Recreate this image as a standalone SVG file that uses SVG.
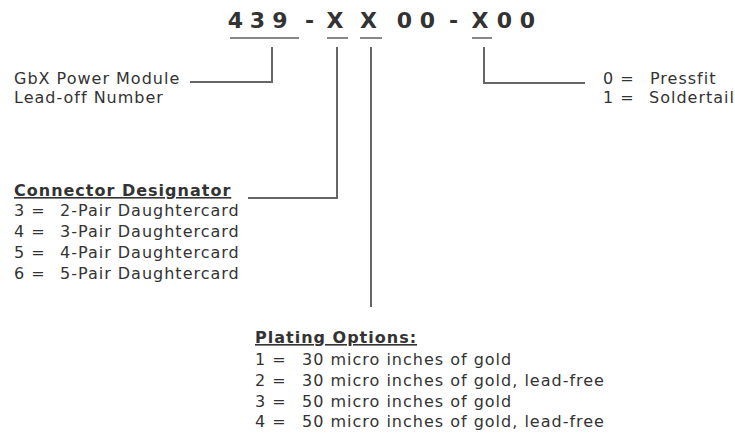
<svg xmlns="http://www.w3.org/2000/svg" width="735" height="435" viewBox="0 0 735 435">
<style>
  .t { font-family: "DejaVu Sans", Verdana, sans-serif; font-size: 16px; letter-spacing: 1px; fill: #333; }
  .h { font-family: "DejaVu Sans", Verdana, sans-serif; font-size: 16px; font-weight: bold; letter-spacing: 1px; fill: #333; text-decoration: underline; }
  .title { font-family: "DejaVu Sans", Verdana, sans-serif; font-size: 22px; font-weight: bold; fill: #333; }
  .ul { stroke: #888; stroke-width: 2; fill: none; }
  .ln { stroke: #666; stroke-width: 2; fill: none; }
</style>
<rect width="735" height="435" fill="#fff"/>
<g id="part-number">
  <text class="title" y="28" text-anchor="middle" x="235.5 257.5 280 309.5 335 368.5 404.5 427.5 453.5 480 504.5 527.5">439-XX00-X00</text>
  <line class="ul" x1="230" y1="38" x2="299" y2="38"/>
  <line class="ul" x1="327" y1="38" x2="348" y2="38"/>
  <line class="ul" x1="360" y1="38" x2="382" y2="38"/>
  <line class="ul" x1="472" y1="38" x2="492" y2="38"/>
</g>
<g id="connectors">
  <path class="ln" d="M272,47 V82 H190"/>
  <path class="ln" d="M337,47 V198 H248"/>
  <path class="ln" d="M371,47 V307" stroke="#888" stroke-width="2.5"/>
  <path class="ln" d="M484,47 V83 H585"/>
</g>
<g id="lead-off">
  <text class="t" x="14" y="84">GbX Power Module</text>
  <text class="t" x="14" y="103">Lead-off Number</text>
</g>
<g id="termination">
  <text class="t" x="603" y="84">0 =</text>
  <text class="t" x="650" y="84">Pressfit</text>
  <text class="t" x="603" y="103">1 =</text>
  <text class="t" x="649" y="103">Soldertail</text>
</g>
<g id="connector-designator">
  <text class="h" x="14" y="196">Connector Designator</text>
  <text class="t" x="14" y="216">3 =</text>
  <text class="t" x="60" y="216">2-Pair Daughtercard</text>
  <text class="t" x="14" y="237">4 =</text>
  <text class="t" x="60" y="237">3-Pair Daughtercard</text>
  <text class="t" x="14" y="258">5 =</text>
  <text class="t" x="60" y="258">4-Pair Daughtercard</text>
  <text class="t" x="14" y="279">6 =</text>
  <text class="t" x="60" y="279">5-Pair Daughtercard</text>
</g>
<g id="plating-options">
  <text class="h" x="255" y="343">Plating Options:</text>
  <text class="t" x="255" y="365">1 =</text>
  <text class="t" x="302" y="365">30 micro inches of gold</text>
  <text class="t" x="255" y="386">2 =</text>
  <text class="t" x="302" y="386">30 micro inches of gold, lead-free</text>
  <text class="t" x="255" y="407">3 =</text>
  <text class="t" x="302" y="407">50 micro inches of gold</text>
  <text class="t" x="255" y="427">4 =</text>
  <text class="t" x="302" y="427">50 micro inches of gold, lead-free</text>
</g>
</svg>
